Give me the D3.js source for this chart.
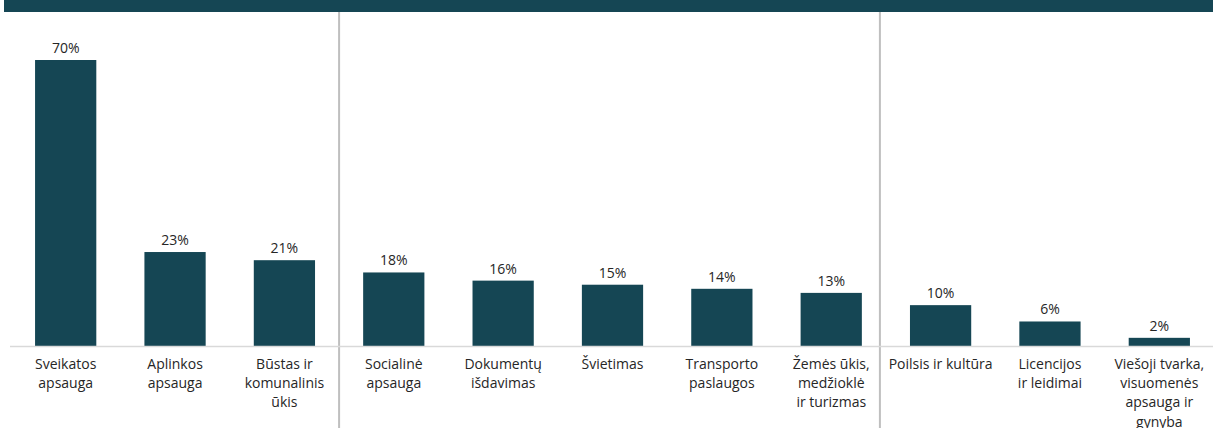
<!DOCTYPE html>
<html>
<head>
<meta charset="utf-8">
<script src="https://cdn.jsdelivr.net/npm/d3@7"></script>
<style>
  html, body { margin: 0; padding: 0; background: #ffffff; }
  svg { display: block; }
  text { font-family: "Open Sans", "Noto Sans", sans-serif; fill: #262626; }
</style>
</head>
<body>
<svg id="chart" width="1213" height="428"></svg>
<script>
// Categories (label lines) and their shares, in percent
const categories = [
  ["Sveikatos", "apsauga"],
  ["Aplinkos", "apsauga"],
  ["Būstas ir", "komunalinis", "ūkis"],
  ["Socialinė", "apsauga"],
  ["Dokumentų", "išdavimas"],
  ["Švietimas"],
  ["Transporto", "paslaugos"],
  ["Žemės ūkis,", "medžioklė", "ir turizmas"],
  ["Poilsis ir kultūra"],
  ["Licencijos", "ir leidimai"],
  ["Viešoji tvarka,", "visuomenės", "apsauga ir", "gynyba"]
];
const values = [70, 23, 21, 18, 16, 15, 14, 13, 10, 6, 2];
// Group dividers are drawn before these category positions
const groupStarts = [3, 8];

const W = 1213, H = 428;
const barColor = "#154654";
const svg = d3.select("#chart");

const keys = categories.map((c, i) => i);
const x = d3.scaleBand()
  .domain(keys)
  .range([11, 1214])
  .paddingInner(0.44)
  .paddingOuter(0.22);

const y = d3.scaleLinear().domain([0, 70]).range([346, 60]);

// Header band
svg.append("rect")
  .attr("x", 4).attr("y", 0)
  .attr("width", W - 4).attr("height", 12)
  .attr("fill", barColor);

// Group dividers, placed in the gap before the first bar of each group
const dividerNudge = [0, -6];
const dividerX = (d, i) => x(d) - (x.step() - x.bandwidth()) / 2 + dividerNudge[i];
svg.selectAll("line.divider")
  .data(groupStarts)
  .join("line")
  .attr("class", "divider")
  .attr("x1", dividerX)
  .attr("x2", dividerX)
  .attr("y1", 12).attr("y2", H)
  .attr("stroke", "#bfbfbf").attr("stroke-width", 2);

// Bars
svg.selectAll("rect.bar")
  .data(values)
  .join("rect")
  .attr("class", "bar")
  .attr("x", (d, i) => x(i))
  .attr("y", d => y(d))
  .attr("width", x.bandwidth())
  .attr("height", d => y(0) - y(d))
  .attr("fill", barColor);

// Baseline
svg.append("line")
  .attr("x1", 10).attr("x2", W)
  .attr("y1", y(0) + 0.5).attr("y2", y(0) + 0.5)
  .attr("stroke", "#d9d9d9").attr("stroke-width", 1.5);

// Value labels
svg.selectAll("text.value")
  .data(values)
  .join("text")
  .attr("class", "value")
  .attr("x", (d, i) => x(i) + x.bandwidth() / 2)
  .attr("y", d => y(d) - 7)
  .attr("text-anchor", "middle")
  .attr("font-size", 14)
  .text(d => d + "%");

// Category labels
const lab = svg.selectAll("text.cat")
  .data(categories)
  .join("text")
  .attr("class", "cat")
  .attr("text-anchor", "middle")
  .attr("font-size", 14)
  .attr("transform", (d, i) => `translate(${x(i) + x.bandwidth() / 2},${y(0) + 22.5})`);
lab.selectAll("tspan")
  .data(d => d)
  .join("tspan")
  .attr("x", 0)
  .attr("y", (d, j) => j * 19.4)
  .text(d => d);
</script>
</body>
</html>
